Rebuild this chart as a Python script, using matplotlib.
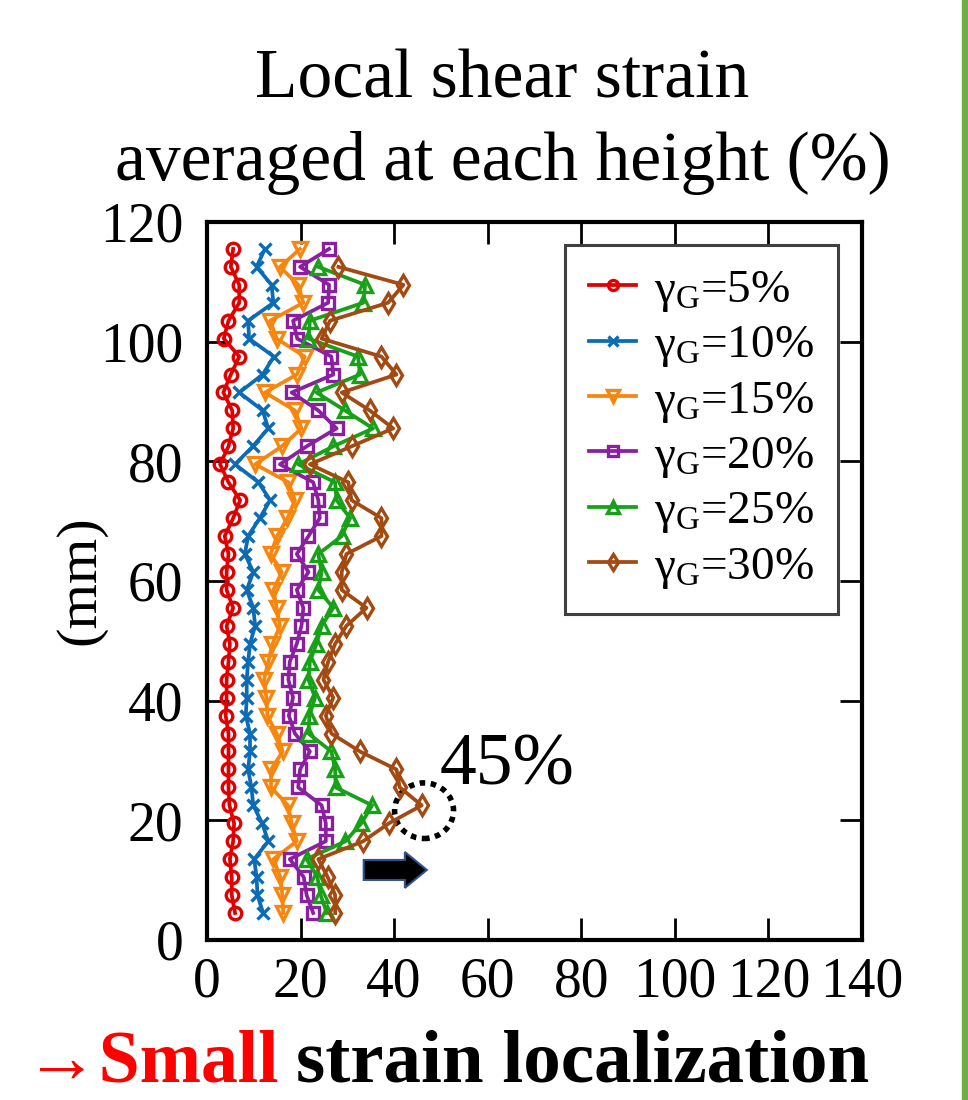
import numpy as np
import matplotlib
matplotlib.use("Agg")
import matplotlib.pyplot as plt
from matplotlib.patches import Ellipse, FancyArrow

plt.rcParams['font.family'] = ['Liberation Serif', 'DejaVu Serif']
plt.rcParams['mathtext.fontset'] = 'custom'
plt.rcParams['mathtext.rm'] = 'Liberation Serif'
plt.rcParams['mathtext.it'] = 'Liberation Serif:italic'

# heights (mm), bottom to top
heights = [4.5, 7.5, 10.5, 13.5, 16.5, 19.5, 22.5, 25.5, 28.5, 31.5,
           34.5, 37.5, 40.5, 43.5, 46.5, 49.5, 52.5, 55.5, 58.5, 61.5,
           64.5, 67.5, 70.5, 73.5, 76.5, 79.5, 82.5, 85.5, 88.5, 91.5,
           94.5, 97.5, 100.5, 103.5, 106.5, 109.5, 112.5, 115.5]

# local shear strain (%) at each height
strain_05 = [6.0, 5.3, 5.3, 4.9, 5.6, 5.8, 4.8, 4.6, 4.6, 4.6,
             4.6, 4.0, 4.2, 4.2, 4.6, 4.9, 4.2, 5.6, 4.2, 4.2,
             4.6, 3.8, 5.6, 7.1, 4.6, 2.8, 4.6, 5.6, 5.4, 3.5,
             5.1, 6.9, 3.6, 4.6, 6.9, 6.9, 5.1, 5.6]
strain_10 = [12.0, 10.8, 10.6, 10.1, 13.1, 11.8, 9.9, 9.5, 8.8, 9.2,
             9.2, 8.3, 8.5, 8.5, 8.8, 9.2, 10.3, 9.9, 8.5, 9.9,
             8.1, 8.8, 11.3, 13.5, 11.0, 6.0, 9.8, 13.1, 11.9, 6.9,
             11.9, 14.3, 9.0, 8.8, 14.2, 13.8, 10.6, 12.4]
strain_15 = [16.3, 16.1, 15.7, 14.2, 19.2, 18.1, 17.3, 13.7, 13.7, 16.2,
             14.9, 12.9, 12.7, 12.2, 13.1, 14.0, 15.6, 14.9, 14.2, 16.0,
             13.6, 15.0, 17.2, 18.8, 17.4, 10.3, 16.0, 20.2, 18.8, 12.4,
             19.2, 20.9, 14.9, 13.5, 20.6, 19.5, 15.6, 19.9]
strain_20 = [22.7, 21.3, 20.7, 17.7, 25.4, 25.4, 24.5, 19.5, 19.9, 22.0,
             18.8, 17.5, 18.4, 17.4, 17.7, 19.2, 20.2, 20.6, 19.2, 21.7,
             19.2, 21.7, 24.1, 23.8, 22.7, 15.6, 21.3, 27.7, 23.8, 18.1,
             27.0, 26.6, 19.3, 18.4, 25.9, 26.1, 19.9, 26.1]
strain_25 = [25.6, 24.3, 23.6, 21.3, 29.6, 33.0, 35.3, 27.5, 27.4, 26.6,
             21.7, 21.9, 23.1, 21.7, 22.0, 23.4, 24.5, 27.0, 23.8, 24.5,
             23.8, 28.8, 30.6, 27.7, 27.4, 19.5, 27.0, 35.5, 29.5, 23.4,
             32.7, 32.3, 21.7, 22.0, 33.4, 33.8, 23.8]
strain_30 = [27.4, 27.4, 25.8, 23.8, 33.4, 38.9, 45.9, 41.2, 40.5, 32.7,
             26.6, 25.4, 27.0, 24.9, 25.9, 27.4, 29.8, 34.1, 28.8, 28.8,
             29.8, 37.3, 37.3, 30.9, 30.2, 22.0, 30.9, 39.8, 34.8, 28.8,
             40.5, 37.3, 24.5, 26.3, 38.7, 42.0, 28.1]

labels = ['5%', '10%', '15%', '20%', '25%', '30%']
series = [strain_05, strain_10, strain_15, strain_20, strain_25, strain_30]
colors = ['#E00000', '#0C6BB5', '#F7860F', '#8A1FA0', '#18A018', '#A24A12']
markers = ['o', 'x', 'v', 's', '^', 'd']
msizes = [9, 8.5, 10, 8.5, 10, 10.5]

fig = plt.figure(figsize=(9.68, 11.0), dpi=100)
ax = fig.add_axes([0.2138, 0.1455, 0.6767, 0.6527])

for vals, lab, col, mk, ms in zip(series, labels, colors, markers, msizes):
    ax.plot(vals, heights[:len(vals)], color=col, marker=mk, lw=2.7,
            ms=ms, mew=2.4, mfc='none', label='γ$_{\\mathrm{G}}$=' + lab)

ax.set_xlim(0, 140)
ax.set_ylim(0, 120)
ax.set_xticks([0, 20, 40, 60, 80, 100, 120, 140])
ax.set_yticks([0, 20, 40, 60, 80, 100, 120])
ax.tick_params(direction='in', length=16, width=2, labelsize=40,
               top=True, right=True)
ax.tick_params(axis='x', pad=12)
ax.tick_params(axis='y', pad=17)
for sp in ax.spines.values():
    sp.set_linewidth(3)

leg = ax.legend(loc='upper right', bbox_to_anchor=(0.963, 0.968),
                borderaxespad=0, fontsize=34, handlelength=1.0,
                handletextpad=0.38, labelspacing=0.22, borderpad=0.5,
                fancybox=False, edgecolor='#404040', framealpha=1,
                markerscale=0.8)
leg.get_frame().set_linewidth(2.2)

# peak marker, note and arrow
ax.add_patch(Ellipse((46.4, 21.6), 12.6, 9.3, fill=False, ec='black',
                     lw=4, ls=(0, (1, 1))))
ax.text(49.8, 25.9, '45%', fontsize=53, va='baseline', ha='left')
ax.add_patch(FancyArrow(33.5, 11.7, 13.5, 0, width=3.34, head_width=6.0,
                        head_length=4.7, length_includes_head=True,
                        fc='black', ec='#2F528F', lw=1.5))

fig.text(0.519, 0.9118, 'Local shear strain', ha='center',
         va='baseline', fontsize=50)
fig.text(0.519, 0.8364, 'averaged at each height (%)', ha='center',
         va='baseline', fontsize=50)
fig.text(80 / 968, 0.4727, '(mm)', rotation=90, ha='center', va='center',
         fontsize=42)

# bottom caption in two colours
t1 = fig.text(25 / 968, 0.002, '→Small', color='red',
              fontweight='bold', fontsize=53, va='bottom')
fig.canvas.draw()
bb = t1.get_window_extent()
fig.text(bb.x1 / 968 + 18 / 968, 0.002, 'strain localization',
         color='black', fontweight='bold', fontsize=54, va='bottom')

# green slide border on the right
fig.patches.append(plt.Rectangle((962 / 968, 0), 6 / 968, 1,
                                 transform=fig.transFigure,
                                 color='#70AD47', zorder=5))

fig.savefig('out.png', dpi=100)
